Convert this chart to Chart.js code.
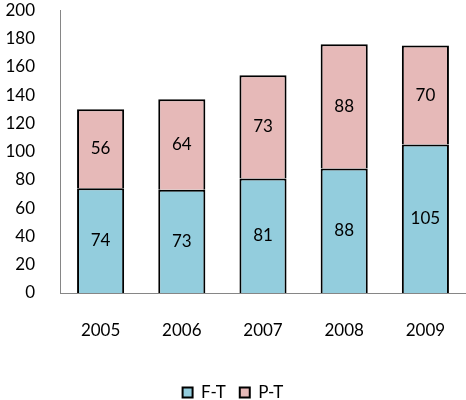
<!DOCTYPE html>
<html>
<head>
<meta charset="utf-8">
<script src="https://cdn.jsdelivr.net/npm/chart.js@4"></script>
<style>
  html, body { margin: 0; padding: 0; background: #fff; }
  #wrap { width: 466px; height: 400px; }
</style>
</head>
<body>
<div id="wrap"><canvas id="chart"></canvas></div>
<script>
// Chart data
const years = ['2005', '2006', '2007', '2008', '2009'];
const fullTime = [74, 73, 81, 88, 105];
const partTime = [56, 64, 73, 88, 70];
const yTicks = [0, 20, 40, 60, 80, 100, 120, 140, 160, 180, 200];

const fontFamily = 'Lato, "Open Sans", sans-serif';

// Write values in the middle of each bar segment
const barLabels = {
  id: 'barLabels',
  afterDatasetsDraw(chart) {
    const ctx = chart.ctx;
    ctx.save();
    ctx.font = '17px ' + fontFamily;
    ctx.fillStyle = '#000';
    ctx.textAlign = 'center';
    ctx.textBaseline = 'middle';
    chart.data.datasets.forEach((ds, i) => {
      chart.getDatasetMeta(i).data.forEach((bar, j) => {
        ctx.fillText(ds.data[j], bar.x, (bar.y + bar.base) / 2);
      });
    });
    ctx.restore();
  }
};

new Chart('chart', {
  type: 'bar',
  data: {
    labels: years,
    datasets: [{
      label: 'F-T',
      data: fullTime,
      backgroundColor: '#93CDDD',
      borderColor: '#000',
      borderWidth: 2,
      borderSkipped: 'start'
    }, {
      label: 'P-T',
      data: partTime,
      backgroundColor: '#E6B9B8',
      borderColor: '#000',
      borderWidth: 2,
      borderSkipped: 'start'
    }]
  },
  options: {
    responsive: true,
    maintainAspectRatio: false,
    animation: false,
    layout: { padding: { top: 1, right: 0, left: 0, bottom: -11 } },
    datasets: { bar: { categoryPercentage: 1, barPercentage: 0.58 } },
    plugins: {
      tooltip: { enabled: false },
      legend: {
        position: 'bottom',
        labels: {
          color: '#000',
          font: { family: fontFamily, size: 17 },
          boxWidth: 10,
          boxHeight: 10,
          padding: 14,
          useBorderRadius: false
        }
      }
    },
    scales: {
      x: {
        stacked: true,
        afterFit: scale => { scale.height = 77; },
        grid: { display: false, drawTicks: true, tickLength: 27 },
        border: { display: true, color: '#868686', width: 1 },
        ticks: { color: '#000', font: { family: fontFamily, size: 17 }, padding: 0 }
      },
      y: {
        stacked: true,
        min: 0,
        max: 200,
        afterBuildTicks: scale => { scale.ticks = yTicks.map(v => ({ value: v })); },
        afterFit: scale => { scale.width = 60; },
        grid: { display: false, drawTicks: true, tickLength: 25 },
        border: { display: true, color: '#868686', width: 1 },
        ticks: { color: '#000', font: { family: fontFamily, size: 17 }, padding: 0 }
      }
    }
  },
  plugins: [barLabels]
});
</script>
</body>
</html>
